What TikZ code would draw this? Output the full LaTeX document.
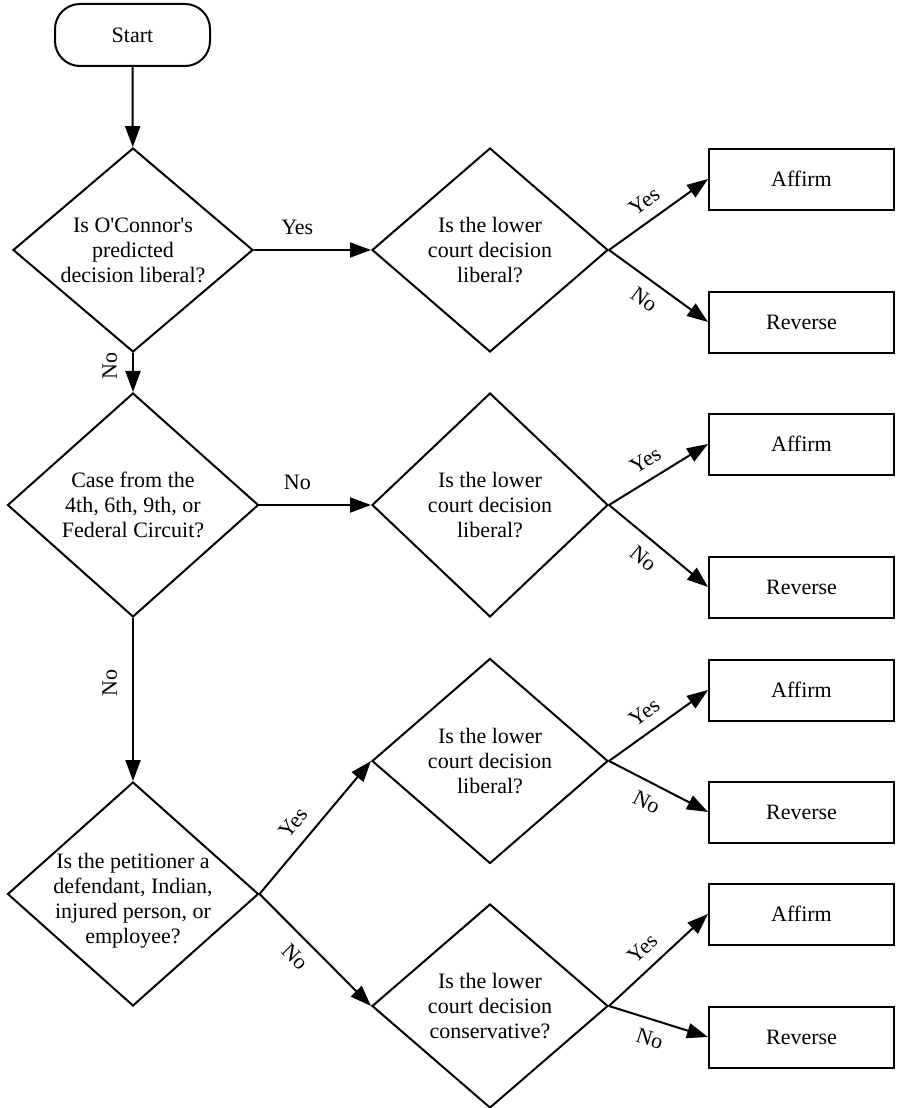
\documentclass[tikz,border=0pt]{standalone}
\usepackage{fontspec}
\setmainfont{Liberation Serif}
\usetikzlibrary{shapes.geometric,arrows.meta}

\begin{document}
\begin{tikzpicture}[x=1pt,y=-1pt,line width=2pt,font=\fontsize{22}{25}\selectfont]
      \useasboundingbox (0,0) rectangle (897,1108);

      \begin{scope}[every node/.style={draw, inner sep=0pt}]
        \node[rounded corners=25pt, minimum width=155pt, minimum height=62pt] (start) at (132.5,35) {Start};
        \node[diamond, minimum width=240pt, minimum height=204pt] (q1) at (133,250) {};
        \node[diamond, minimum width=236pt, minimum height=204pt] (q2) at (490,250) {};
        \node[diamond, minimum width=251pt, minimum height=224pt] (q3) at (133,505) {};
        \node[diamond, minimum width=236pt, minimum height=224pt] (q4) at (490,505) {};
        \node[diamond, minimum width=251pt, minimum height=224pt] (q5) at (133,894) {};
        \node[diamond, minimum width=236pt, minimum height=205pt] (q6) at (490,761) {};
        \node[diamond, minimum width=236pt, minimum height=204pt] (q7) at (490,1006) {};
        \node[minimum width=185pt, minimum height=61pt] (aff1) at (801.5,179) {Affirm};
        \node[minimum width=185pt, minimum height=61pt] (rev1) at (801.5,322) {Reverse};
        \node[minimum width=185pt, minimum height=61pt] (aff2) at (801.5,444) {Affirm};
        \node[minimum width=185pt, minimum height=61pt] (rev2) at (801.5,587) {Reverse};
        \node[minimum width=185pt, minimum height=61pt] (aff3) at (801.5,690) {Affirm};
        \node[minimum width=185pt, minimum height=61pt] (rev3) at (801.5,812) {Reverse};
        \node[minimum width=185pt, minimum height=61pt] (aff4) at (801.5,914) {Affirm};
        \node[minimum width=185pt, minimum height=61pt] (rev4) at (801.5,1037) {Reverse};
      \end{scope}

      % questions inside the diamonds
      \begin{scope}[every node/.style={align=center, inner sep=0pt}]
        \node (q1text) at (q1) {Is O\textquotesingle Connor\textquotesingle s\\predicted\\decision liberal?};
        \node (q2text) at (q2) {Is the lower\\court decision\\liberal?};
        \node (q3text) at (q3) {Case from the\\4th, 6th, 9th, or\\Federal Circuit?};
        \node (q4text) at (q4) {Is the lower\\court decision\\liberal?};
        \node (q5text) at (133,901) {Is the petitioner a\\defendant, Indian,\\injured person, or\\employee?};
        \node (q6text) at (q6) {Is the lower\\court decision\\liberal?};
        \node (q7text) at (q7) {Is the lower\\court decision\\conservative?};
      \end{scope}

      \begin{scope}[every node/.style={inner sep=2pt}]

        \begin{scope}[every edge/.style={draw, -{Triangle[length=21pt,width=15pt]}}]
          \path (start) edge (q1);
          \path (q1) edge node[above=12pt, pos=.37] {Yes} (q2);
          \path (q1) edge node[rotate=90, above=13pt, pos=.34] {No} (q3);
          \path (q3) edge node[above=12pt, pos=.34] {No} (q4);
          \path (q3) edge node[rotate=90, above=13pt, pos=.4] {No} (q5);
          \path (q5.east) edge node[sloped, above=9pt, pos=.44] {Yes} (q6.west);
          \path (q5.east) edge node[sloped, below=9pt, pos=.44] {No} (q7.west);
          \path (q2.east) edge node[sloped, above=9pt, pos=.47] {Yes} (aff1.west);
          \path (q2.east) edge node[sloped, below=9pt, pos=.47] {No} (rev1.west);
          \path (q4.east) edge node[sloped, above=9pt, pos=.47] {Yes} (aff2.west);
          \path (q4.east) edge node[sloped, below=9pt, pos=.47] {No} (rev2.west);
          \path (q6.east) edge node[sloped, above=9pt, pos=.47] {Yes} (aff3.west);
          \path (q6.east) edge node[sloped, below=9pt, pos=.47] {No} (rev3.west);
          \path (q7.east) edge node[sloped, above=9pt, pos=.47] {Yes} (aff4.west);
          \path (q7.east) edge node[sloped, below=9pt, pos=.47] {No} (rev4.west);
        \end{scope}
      \end{scope}

    \end{tikzpicture}
\end{document}
